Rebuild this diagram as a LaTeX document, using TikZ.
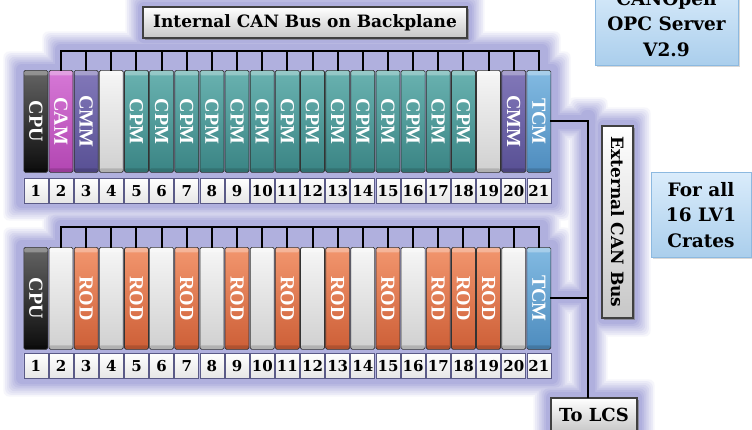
\documentclass[tikz,border=0pt]{standalone}
\usepackage{fontspec}
\setmainfont{DejaVu Serif}
\newfontfamily\cardfont{Liberation Serif}
\usetikzlibrary{shadows}
\definecolor{lav}{RGB}{176,176,222}
\definecolor{cpuT}{RGB}{100,100,100}\definecolor{cpuB}{RGB}{12,12,12}
\definecolor{camT}{RGB}{214,120,214}\definecolor{camB}{RGB}{178,70,178}
\definecolor{cmmT}{RGB}{130,120,185}\definecolor{cmmB}{RGB}{88,80,148}
\definecolor{empT}{RGB}{246,246,246}\definecolor{empB}{RGB}{208,208,208}
\definecolor{cpmT}{RGB}{105,178,176}\definecolor{cpmB}{RGB}{58,132,132}
\definecolor{tcmT}{RGB}{130,186,226}\definecolor{tcmB}{RGB}{78,140,190}
\definecolor{rodT}{RGB}{242,150,110}\definecolor{rodB}{RGB}{205,95,55}
\definecolor{bluT}{RGB}{218,236,251}\definecolor{bluB}{RGB}{170,206,236}
\definecolor{bluD}{RGB}{140,185,224}
\definecolor{numD}{RGB}{90,90,135}
\newcommand\glowlayers[1]{%
  \foreach \k in {0,...,7}{%
    \pgfmathsetmacro\ex{(7-\k)*1.8}%
    \pgfmathtruncatemacro\pc{(\k+1)*100/8}%
    \foreach \a/\b/\c/\d in {#1}{%
      \fill[lav!\pc!white, rounded corners=6pt] (\a-\ex,\b-\ex) rectangle (\c+\ex,\d+\ex);
    }%
  }%
}
\begin{document}
\begin{tikzpicture}[x=1pt,y=-1pt,
  card/.style={draw=black!80, line width=0.7pt, rounded corners=1.5pt,
    minimum width=24pt, minimum height=102pt, inner sep=0pt, anchor=north west,
    font=\cardfont\bfseries\fontsize{20}{20}\selectfont, text=white,
    path picture={\fill[white,opacity=0.3] (path picture bounding box.north west) rectangle ([yshift=-5pt]path picture bounding box.north east);
      \fill[black,opacity=0.15] (path picture bounding box.south west) rectangle ([yshift=4pt]path picture bounding box.south east);}},
  cpu/.style={top color=cpuT, bottom color=cpuB},
  cam/.style={top color=camT, bottom color=camB},
  cmm/.style={top color=cmmT, bottom color=cmmB},
  emp/.style={top color=empT, bottom color=empB},
  cpm/.style={top color=cpmT, bottom color=cpmB},
  tcm/.style={top color=tcmT, bottom color=tcmB},
  rod/.style={top color=rodT, bottom color=rodB},
  numbox/.style={draw=numD, line width=0.8pt, top color=white, bottom color=black!10,
    minimum width=24pt, minimum height=25pt, inner sep=0pt, anchor=north west,
    font=\bfseries\fontsize{15}{15}\selectfont},
  busline/.style={line width=2pt, black, line cap=rect},
  greybox/.style={draw=black!75, line width=1.3pt, top color=white, bottom color=black!22,
    inner sep=2pt, drop shadow={shadow xshift=1.5pt, shadow yshift=-1.5pt, fill=black!55, opacity=0.6}},
  bluebox/.style={draw=bluD, line width=1pt, top color=bluT, bottom color=bluB,
    align=center, font=\bfseries\fontsize{18.5}{25.5}\selectfont,
    drop shadow={shadow xshift=1.5pt, shadow yshift=-1.5pt, fill=black!30, opacity=0.5}}
]
\useasboundingbox (0,0) rectangle (752,429);
\fill[white] (0,0) rectangle (752,429);
% glow backgrounds
\glowlayers{138/2/472/43, 55/44/548/70, 16/64/558/208, 55/220/548/247, 16/240/558/384, 581/110/595/398, 548/115/595/129, 548/291/595/303, 598/120/638/324, 546/392/642/440}
% top crate
\foreach \i/\t/\l in {1/cpu/CPU,2/cam/CAM,3/cmm/CMM,4/emp/{},5/cpm/CPM,6/cpm/CPM,7/cpm/CPM,8/cpm/CPM,9/cpm/CPM,10/cpm/CPM,11/cpm/CPM,12/cpm/CPM,13/cpm/CPM,14/cpm/CPM,15/cpm/CPM,16/cpm/CPM,17/cpm/CPM,18/cpm/CPM,19/emp/{},20/cmm/CMM,21/tcm/TCM}{
  \pgfmathsetmacro\xx{23.5+(\i-1)*25.15}
  \node[card,\t] (t\i) at (\xx,70) {\rotatebox{-90}{\l}};
  \node[numbox] (tn\i) at (\xx,178) {\i};
}
% bottom crate
\foreach \i/\t/\l in {1/cpu/CPU,2/emp/{},3/rod/ROD,4/emp/{},5/rod/ROD,6/emp/{},7/rod/ROD,8/emp/{},9/rod/ROD,10/emp/{},11/rod/ROD,12/emp/{},13/rod/ROD,14/emp/{},15/rod/ROD,16/emp/{},17/rod/ROD,18/rod/ROD,19/rod/ROD,20/emp/{},21/tcm/TCM}{
  \pgfmathsetmacro\xx{23.5+(\i-1)*25.15}
  \node[card,\t] (b\i) at (\xx,247) {\rotatebox{-90}{\l}};
  \node[numbox] (bn\i) at (\xx,353) {\i};
}
% internal buses
\coordinate (busT) at (0,51);
\coordinate (busB) at (0,227);
\draw[busline] (t2.north) -- (t2.north |- busT) -- (t21.north |- busT) -- (t21.north);
\draw[busline] (b2.north) -- (b2.north |- busB) -- (b21.north |- busB) -- (b21.north);
\foreach \i in {3,...,20}{
  \draw[busline] (t\i.north) -- (t\i.north |- busT);
  \draw[busline] (b\i.north) -- (b\i.north |- busB);
}
% boxes
\node[greybox, minimum width=324pt, minimum height=31pt, font=\bfseries\fontsize{17}{19}\selectfont] (title) at (305,22.5) {Internal CAN Bus on Backplane};
\node[greybox, rotate=-90, minimum width=192pt, minimum height=31pt, font=\bfseries\fontsize{17}{20}\selectfont] (ext) at (617.5,222) {External CAN Bus};
\node[greybox, minimum width=86pt, minimum height=34pt, font=\bfseries\fontsize{18}{20}\selectfont] (lcs) at (594,415) {To LCS};
\node[bluebox, anchor=south, minimum width=143pt, inner ysep=9pt] (opc) at (666.5,66) {CANOpen\\OPC Server\\V2.9};
\node[bluebox, anchor=south, minimum width=100pt, inner ysep=10pt] (lv1) at (701,258) {For all\\16 LV1\\Crates};
% external bus
\coordinate (extX) at (588,0);
\draw[busline] (t21.east) -- (t21.east -| extX) -- (lcs.north -| extX);
\draw[busline] (b21.east) -- (b21.east -| extX);
\end{tikzpicture}
\end{document}
